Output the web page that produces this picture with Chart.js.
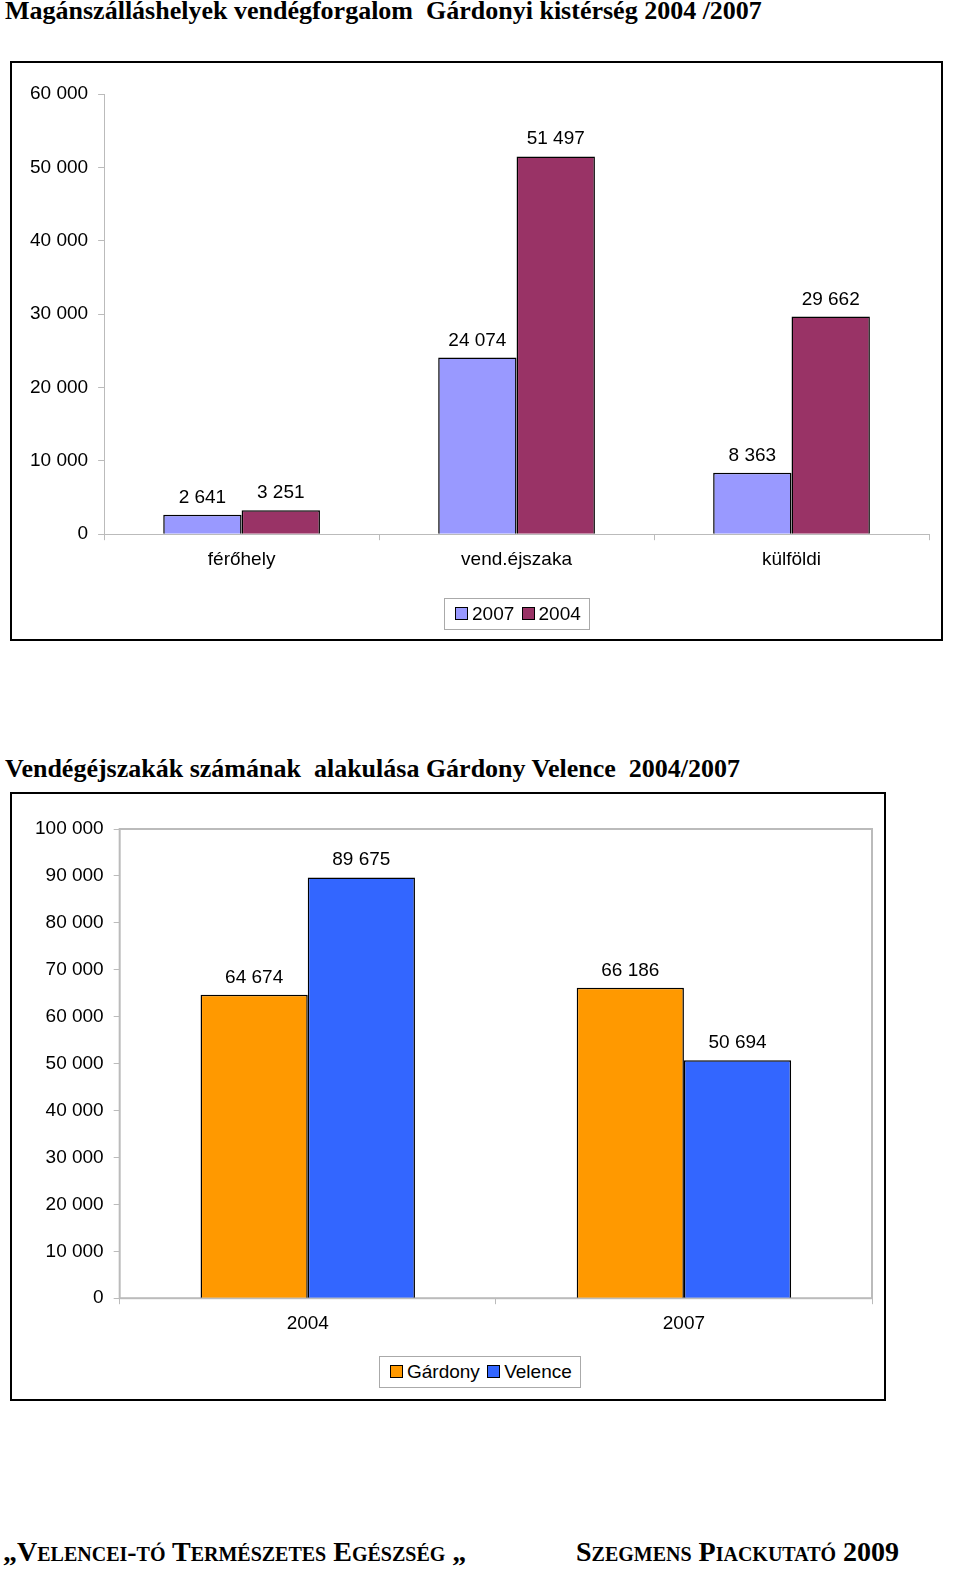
<!DOCTYPE html>
<html><head><meta charset="utf-8">
<script src="https://cdn.jsdelivr.net/npm/chart.js@4"></script>
<style>
body{margin:0;background:#fff;width:960px;height:1593px;position:relative;font-family:"Liberation Sans",Arial,sans-serif}
.t{position:absolute;font-family:"Liberation Serif",serif;font-weight:bold;font-size:26px;color:#000;white-space:nowrap}
.box{position:absolute;border:2px solid #000;box-sizing:border-box}
.box canvas{position:absolute;left:0;top:0}
.leg{position:absolute;border:1px solid #aaa;font-size:19px;padding:4px 8px;white-space:nowrap}
.leg span.sw{display:inline-block;width:11px;height:11px;border:1px solid #000;margin:0 4px 0 2px}
.foot{position:absolute;top:1536px;font-family:"Liberation Serif",serif;font-weight:bold;font-size:28px;font-variant:small-caps;white-space:nowrap}
</style></head><body>
<div class="t" style="left:5px;top:-4px">Magánszálláshelyek vendégforgalom&nbsp; Gárdonyi kistérség 2004 /2007</div>
<div class="box" style="left:10px;top:61px;width:933px;height:580px"><canvas id="c1" width="929" height="540"></canvas>
<div class="leg" style="left:432px;top:535px"><span class="sw" style="background:#9999FF"></span>2007 <span class="sw" style="background:#993366"></span>2004</div></div>
<div class="t" style="left:5px;top:754px">Vendégéjszakák számának&nbsp; alakulása Gárdony Velence&nbsp; 2004/2007</div>
<div class="box" style="left:10px;top:792px;width:876px;height:609px"><canvas id="c2" width="872" height="555"></canvas>
<div class="leg" style="left:367px;top:562px"><span class="sw" style="background:#FF9900"></span>Gárdony <span class="sw" style="background:#3366FF"></span>Velence</div></div>
<div class="foot" style="left:3px">„Velencei-tó Természetes Egészség „</div>
<div class="foot" style="left:576px">Szegmens Piackutató 2009</div>
<script>
const cats1 = ["férőhely", "vend.éjszaka", "külföldi"];
const v2007 = [2641, 24074, 8363];
const v2004 = [3251, 51497, 29662];

const cats2 = ["2004", "2007"];
const gardony = [64674, 66186];
const velence = [89675, 50694];

const fmt = v => String(v).replace(/\B(?=(\d{3})+(?!\d))/g, " ");
const font = { family: "Liberation Sans, Arial, sans-serif", size: 19 };

const labelsPlugin = {
  id: "vals",
  afterDatasetsDraw(chart) {
    const ctx = chart.ctx;
    ctx.save();
    ctx.font = "19px Liberation Sans, Arial, sans-serif";
    ctx.fillStyle = "#000";
    ctx.textAlign = "center";
    chart.data.datasets.forEach((ds, i) => {
      chart.getDatasetMeta(i).data.forEach((bar, j) => {
        ctx.fillText(fmt(ds.data[j]), bar.x, bar.y - 12);
      });
    });
    ctx.restore();
  }
};

function makeChart(id, labels, sets, max, step, pad, catPct, frame) {
  return new Chart(document.getElementById(id), {
    type: "bar",
    data: { labels, datasets: sets.map(s => ({ ...s, borderColor: "#000", borderWidth: 1.5, barPercentage: 1, categoryPercentage: catPct })) },
    options: {
      responsive: false, animation: false,
      layout: { padding: pad },
      plugins: { legend: { display: false }, tooltip: { enabled: false } },
      scales: {
        x: { grid: { display: true, drawOnChartArea: false, offset: true, tickLength: 6, color: "#bbb" },
             border: { color: "#bbb" }, ticks: { color: "#000", font, padding: 8 } },
        y: { min: 0, max, grid: { drawOnChartArea: false, tickLength: 6, color: "#bbb" },
             border: { color: "#bbb" },
             ticks: { stepSize: step, color: "#000", font, padding: 10, callback: v => fmt(v) } }
      }
    },
    plugins: [labelsPlugin, {
      id: "frame",
      beforeDraw(chart) {
        if (!frame) return;
        const a = chart.chartArea, ctx = chart.ctx;
        ctx.save(); ctx.strokeStyle = "#bbb"; ctx.lineWidth = 2;
        ctx.strokeRect(a.left, a.top, a.right - a.left, a.bottom - a.top);
        ctx.restore();
      }
    }]
  });
}

makeChart("c1", cats1, [
  { label: "2007", data: v2007, backgroundColor: "#9999FF" },
  { label: "2004", data: v2004, backgroundColor: "#993366" }
], 60000, 10000, { top: 31, right: 12, left: 8, bottom: 24 }, 0.57, false);

makeChart("c2", cats2, [
  { label: "Gárdony", data: gardony, backgroundColor: "#FF9900" },
  { label: "Velence", data: velence, backgroundColor: "#3366FF" }
], 100000, 10000, { top: 35, right: 12, left: 13, bottom: 6 }, 0.57, true);
</script>
</body></html>
